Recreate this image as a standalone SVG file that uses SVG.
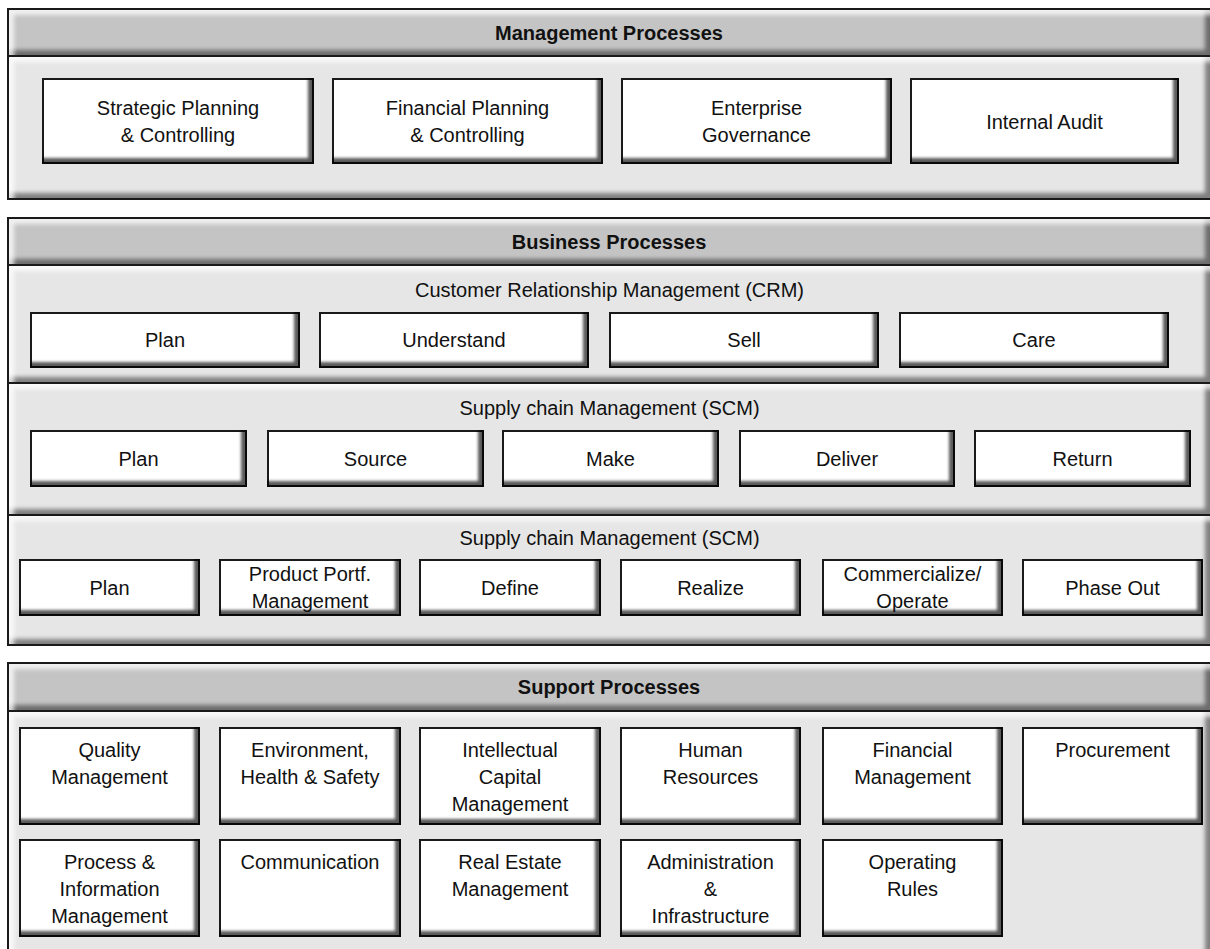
<svg xmlns="http://www.w3.org/2000/svg" width="1210" height="949" viewBox="0 0 1210 949">
<defs>
<style>
.sec{stroke:#1a1a1a;stroke-width:2;filter:url(#bevS)}
.hdr{fill:#c4c4c4}
.body{fill:#e6e6e6}
.box{fill:#ffffff;stroke:#1a1a1a;stroke-width:2;filter:url(#bevB)}
text{font-family:"Liberation Sans",Arial,sans-serif;font-size:20px;fill:#111111;text-anchor:middle}
.h{font-weight:bold}
</style>
<filter id="bevB" x="-10%" y="-20%" width="120%" height="140%" color-interpolation-filters="sRGB">
<feFlood flood-color="#000000" result="f"/>
<feOffset in="SourceAlpha" dx="-6" dy="-6" result="o"/>
<feComposite in="f" in2="o" operator="out" result="inv"/>
<feGaussianBlur in="inv" stdDeviation="1.8" result="bl"/>
<feComposite in="bl" in2="SourceAlpha" operator="in" result="sh"/>
<feComponentTransfer in="sh" result="sh2"><feFuncA type="linear" slope="0.65"/></feComponentTransfer>
<feMerge><feMergeNode in="SourceGraphic"/><feMergeNode in="sh2"/></feMerge>
</filter>
<filter id="bevS" x="-10%" y="-20%" width="120%" height="140%" color-interpolation-filters="sRGB">
<feMorphology in="SourceAlpha" operator="erode" radius="2" result="inner"/>
<feFlood flood-color="#000000" result="fb"/>
<feOffset in="SourceAlpha" dx="-7" dy="-7" result="o"/>
<feComposite in="fb" in2="o" operator="out" result="inv"/>
<feGaussianBlur in="inv" stdDeviation="2.2" result="bl"/>
<feComposite in="bl" in2="inner" operator="in" result="sh"/>
<feComponentTransfer in="sh" result="sh2"><feFuncA type="linear" slope="0.45"/></feComponentTransfer>
<feFlood flood-color="#ffffff" result="fw"/>
<feOffset in="SourceAlpha" dx="7" dy="7" result="o2"/>
<feComposite in="fw" in2="o2" operator="out" result="inv2"/>
<feGaussianBlur in="inv2" stdDeviation="2.2" result="bl2"/>
<feComposite in="bl2" in2="inner" operator="in" result="hl"/>
<feComponentTransfer in="hl" result="hl2"><feFuncA type="linear" slope="0.75"/></feComponentTransfer>
<feMerge><feMergeNode in="SourceGraphic"/><feMergeNode in="sh2"/><feMergeNode in="hl2"/></feMerge>
</filter>
</defs>

<g id="management">
<rect class="sec hdr" x="8" y="9" width="1203" height="47"/>
<rect class="sec body" x="8" y="56" width="1203" height="143"/>
<text class="h" x="609" y="40">Management Processes</text>
</g>
<g id="mgmt-strategic"><rect class="box" x="43" y="79" width="270" height="84"/><text x="178" y="115">Strategic Planning</text><text x="178" y="142">&amp; Controlling</text></g>
<g id="mgmt-financial"><rect class="box" x="333" y="79" width="269" height="84"/><text x="467.5" y="115">Financial Planning</text><text x="467.5" y="142">&amp; Controlling</text></g>
<g id="mgmt-governance"><rect class="box" x="622" y="79" width="269" height="84"/><text x="756.5" y="115">Enterprise</text><text x="756.5" y="142">Governance</text></g>
<g id="mgmt-audit"><rect class="box" x="911" y="79" width="267" height="84"/><text x="1044.5" y="128.5">Internal Audit</text></g>

<g id="business">
<rect class="sec hdr" x="8" y="218" width="1203" height="47"/>
<rect class="sec body" x="8" y="265" width="1203" height="118"/>
<rect class="sec body" x="8" y="383" width="1203" height="132"/>
<rect class="sec body" x="8" y="515" width="1203" height="130"/>
<text class="h" x="609" y="248.5">Business Processes</text>
<text x="609.5" y="297">Customer Relationship Management (CRM)</text>
<text x="609.5" y="415">Supply chain Management (SCM)</text>
<text x="609.5" y="545">Supply chain Management (SCM)</text>
</g>
<g id="crm-plan"><rect class="box" x="31" y="313" width="268" height="54"/><text x="165" y="347">Plan</text></g>
<g id="crm-understand"><rect class="box" x="320" y="313" width="268" height="54"/><text x="454" y="347">Understand</text></g>
<g id="crm-sell"><rect class="box" x="610" y="313" width="268" height="54"/><text x="744" y="347">Sell</text></g>
<g id="crm-care"><rect class="box" x="900" y="313" width="268" height="54"/><text x="1034" y="347">Care</text></g>

<g id="scm-plan"><rect class="box" x="31" y="431" width="215" height="55"/><text x="138.5" y="465.5">Plan</text></g>
<g id="scm-source"><rect class="box" x="268" y="431" width="215" height="55"/><text x="375.5" y="465.5">Source</text></g>
<g id="scm-make"><rect class="box" x="503" y="431" width="215" height="55"/><text x="610.5" y="465.5">Make</text></g>
<g id="scm-deliver"><rect class="box" x="740" y="431" width="214" height="55"/><text x="847" y="465.5">Deliver</text></g>
<g id="scm-return"><rect class="box" x="975" y="431" width="215" height="55"/><text x="1082.5" y="465.5">Return</text></g>

<g id="plm-plan"><rect class="box" x="20" y="560" width="179" height="55"/><text x="109.5" y="594.5">Plan</text></g>
<g id="plm-portfolio"><rect class="box" x="220" y="560" width="180" height="55"/><text x="310" y="581">Product Portf.</text><text x="310" y="608">Management</text></g>
<g id="plm-define"><rect class="box" x="420" y="560" width="180" height="55"/><text x="510" y="594.5">Define</text></g>
<g id="plm-realize"><rect class="box" x="621" y="560" width="179" height="55"/><text x="710.5" y="594.5">Realize</text></g>
<g id="plm-commercialize"><rect class="box" x="823" y="560" width="179" height="55"/><text x="912.5" y="581">Commercialize/</text><text x="912.5" y="608">Operate</text></g>
<g id="plm-phaseout"><rect class="box" x="1023" y="560" width="179" height="55"/><text x="1112.5" y="594.5">Phase Out</text></g>

<g id="support">
<rect class="sec hdr" x="8" y="663" width="1203" height="48"/>
<rect class="sec body" x="8" y="711" width="1203" height="260"/>
<text class="h" x="609" y="694">Support Processes</text>
</g>
<g id="sup-quality"><rect class="box" x="20" y="728" width="179" height="96"/><text x="109.5" y="757">Quality</text><text x="109.5" y="784">Management</text></g>
<g id="sup-ehs"><rect class="box" x="220" y="728" width="180" height="96"/><text x="310" y="757">Environment,</text><text x="310" y="784">Health &amp; Safety</text></g>
<g id="sup-icm"><rect class="box" x="420" y="728" width="180" height="96"/><text x="510" y="757">Intellectual</text><text x="510" y="784">Capital</text><text x="510" y="811">Management</text></g>
<g id="sup-hr"><rect class="box" x="621" y="728" width="179" height="96"/><text x="710.5" y="757">Human</text><text x="710.5" y="784">Resources</text></g>
<g id="sup-fin"><rect class="box" x="823" y="728" width="179" height="96"/><text x="912.5" y="757">Financial</text><text x="912.5" y="784">Management</text></g>
<g id="sup-proc"><rect class="box" x="1023" y="728" width="179" height="96"/><text x="1112.5" y="757">Procurement</text></g>
<g id="sup-pim"><rect class="box" x="20" y="840" width="179" height="96"/><text x="109.5" y="869">Process &amp;</text><text x="109.5" y="896">Information</text><text x="109.5" y="923">Management</text></g>
<g id="sup-comm"><rect class="box" x="220" y="840" width="180" height="96"/><text x="310" y="869">Communication</text></g>
<g id="sup-re"><rect class="box" x="420" y="840" width="180" height="96"/><text x="510" y="869">Real Estate</text><text x="510" y="896">Management</text></g>
<g id="sup-admin"><rect class="box" x="621" y="840" width="179" height="96"/><text x="710.5" y="869">Administration</text><text x="710.5" y="896">&amp;</text><text x="710.5" y="923">Infrastructure</text></g>
<g id="sup-rules"><rect class="box" x="823" y="840" width="179" height="96"/><text x="912.5" y="869">Operating</text><text x="912.5" y="896">Rules</text></g>

<g id="connectors"></g>
</svg>
